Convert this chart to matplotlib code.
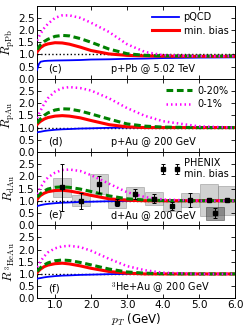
import matplotlib
matplotlib.use("Agg")
import matplotlib.pyplot as plt
from matplotlib.patches import Rectangle
import numpy as np

plt.rcParams['mathtext.fontset'] = 'cm'
plt.rcParams['font.family'] = ['DejaVu Sans']

# pT grid for model curves
pt = [0.5, 0.55, 0.6, 0.7, 0.8, 1.0, 1.2, 1.4, 1.7, 2.0, 2.5, 3.0, 3.5, 4.0, 5.0, 6.0]

# panel (c) p+Pb 5.02 TeV
c_pqcd = [0.36, 0.60, 0.70, 0.73, 0.74, 0.75, 0.755, 0.76, 0.77, 0.79, 0.80, 0.82, 0.83, 0.85, 0.87, 0.88]
c_mb   = [1.10, 1.20, 1.28, 1.38, 1.43, 1.48, 1.47, 1.42, 1.30, 1.16, 1.02, 0.96, 0.94, 0.93, 0.92, 0.92]
c_020  = [1.20, 1.30, 1.40, 1.53, 1.62, 1.74, 1.78, 1.76, 1.65, 1.50, 1.22, 1.03, 0.96, 0.94, 0.93, 0.93]
c_01   = [1.57, 1.72, 1.85, 2.08, 2.25, 2.50, 2.60, 2.60, 2.50, 2.30, 1.92, 1.42, 1.10, 0.97, 0.93, 0.93]

# panel (d) p+Au 200 GeV
d_pqcd = [0.80, 0.82, 0.83, 0.86, 0.88, 0.91, 0.93, 0.94, 0.96, 0.97, 0.99, 1.00, 1.00, 1.00, 1.00, 1.00]
d_mb   = [1.12, 1.20, 1.26, 1.35, 1.41, 1.47, 1.49, 1.47, 1.40, 1.29, 1.12, 1.03, 1.00, 1.00, 1.00, 1.00]
d_020  = [1.18, 1.28, 1.36, 1.50, 1.60, 1.72, 1.77, 1.76, 1.68, 1.56, 1.35, 1.15, 1.06, 1.02, 1.00, 1.00]
d_01   = [1.39, 1.55, 1.70, 1.98, 2.20, 2.48, 2.62, 2.66, 2.62, 2.52, 2.20, 1.80, 1.48, 1.26, 1.05, 1.00]

# panel (e) d+Au 200 GeV
e_pqcd = [0.78, 0.80, 0.82, 0.85, 0.87, 0.90, 0.92, 0.93, 0.95, 0.96, 0.98, 0.99, 1.00, 1.00, 1.00, 1.00]
e_mb   = [1.05, 1.15, 1.22, 1.31, 1.37, 1.42, 1.43, 1.40, 1.32, 1.22, 1.08, 1.02, 1.00, 1.00, 1.00, 1.00]
e_020  = [1.15, 1.22, 1.30, 1.40, 1.48, 1.55, 1.57, 1.55, 1.48, 1.38, 1.20, 1.08, 1.03, 1.01, 1.00, 1.00]
e_01   = [1.28, 1.42, 1.55, 1.78, 1.95, 2.15, 2.26, 2.28, 2.22, 2.05, 1.70, 1.35, 1.15, 1.05, 1.00, 1.00]

# panel (f) 3He+Au 200 GeV
f_pqcd = [0.80, 0.82, 0.83, 0.86, 0.88, 0.91, 0.93, 0.94, 0.96, 0.97, 0.99, 1.00, 1.00, 1.00, 1.00, 1.00]
f_mb   = [1.05, 1.13, 1.20, 1.30, 1.36, 1.42, 1.44, 1.41, 1.33, 1.23, 1.10, 1.03, 1.00, 1.00, 1.00, 1.00]
f_020  = [1.10, 1.18, 1.26, 1.37, 1.45, 1.54, 1.57, 1.55, 1.47, 1.37, 1.20, 1.08, 1.03, 1.01, 1.00, 1.00]
f_01   = [1.28, 1.40, 1.52, 1.72, 1.88, 2.05, 2.13, 2.15, 2.10, 1.95, 1.62, 1.32, 1.15, 1.05, 1.00, 1.00]

# PHENIX d+Au min. bias data
phx_pt   = [1.20, 1.71, 2.22, 2.73, 3.22, 3.75, 4.24, 4.75, 5.28, 5.79]
phx_r    = [1.55, 1.00, 1.68, 0.92, 1.28, 1.09, 0.78, 1.03, 1.02, 1.02]
phx_stat = [0.97, 0.33, 0.35, 0.15, 0.20, 0.20, 0.15, 0.28, 0.05, 0.05]
phx_sys  = [0.40, 0.22, 0.40, 0.20, 0.30, 0.25, 0.18, 0.28, 0.65, 0.60]
# separate point with dark systematic box
phx2_pt   = [5.43]
phx2_r    = [0.49]
phx2_stat = [0.20]
phx2_sys  = [0.26]

xticks = [1.0, 2.0, 3.0, 4.0, 5.0, 6.0]
yticks = [0.0, 0.5, 1.0, 1.5, 2.0, 2.5]

panels = [
    ("c", r"$R_{\mathrm{pPb}}$", "p+Pb @ 5.02 TeV", c_pqcd, c_mb, c_020, c_01),
    ("d", r"$R_{\mathrm{pAu}}$", "p+Au @ 200 GeV", d_pqcd, d_mb, d_020, d_01),
    ("e", r"$R_{\mathrm{dAu}}$", "d+Au @ 200 GeV", e_pqcd, e_mb, e_020, e_01),
    ("f", r"$R_{\ ^{3}\mathrm{HeAu}}$", r"$^3$He+Au @ 200 GeV", f_pqcd, f_mb, f_020, f_01),
]

fig = plt.figure(figsize=(2.49, 3.32), dpi=100)
gs = fig.add_gridspec(4, 1, left=0.1486, right=0.944, top=0.983, bottom=0.1015, hspace=0)

for i, (tag, ylab, sysname, pq, mb, c20, c1) in enumerate(panels):
    ax = fig.add_subplot(gs[i])
    ax.axhline(1.0, color='black', ls=':', lw=1.0, zorder=2)
    if tag == "e":
        for x, y, s in zip(phx_pt, phx_r, phx_sys):
            ax.add_patch(Rectangle((x - 0.25, y - s), 0.5, 2 * s, facecolor='0.6',
                                   edgecolor='0.45', alpha=0.45, lw=0.6, zorder=1))
        for x, y, s in zip(phx2_pt, phx2_r, phx2_sys):
            ax.add_patch(Rectangle((x - 0.25, y - s), 0.5, 2 * s, facecolor='0.3',
                                   edgecolor='0.2', alpha=0.55, lw=0.6, zorder=1))
    l1, = ax.plot(pt, pq, color='blue', lw=1.3, zorder=3)
    l2, = ax.plot(pt, mb, color='red', lw=2.2, zorder=4)
    l3, = ax.plot(pt, c20, color='green', lw=2.2, ls=(0, (2.2, 1.2)), zorder=5)
    l4, = ax.plot(pt, c1, color='magenta', lw=1.8, ls=(0, (0.6, 1.2)), zorder=6)
    if tag == "e":
        eb = ax.errorbar(phx_pt, phx_r, yerr=phx_stat, fmt='s', color='black', ms=3.5,
                         elinewidth=0.7, capsize=1.5, capthick=0.7, zorder=7)
        ax.errorbar(phx2_pt, phx2_r, yerr=phx2_stat, fmt='s', color='black', ms=3.5,
                    elinewidth=0.7, capsize=1.5, capthick=0.7, zorder=7)
        ax.legend([eb], ["PHENIX\nmin. bias"], loc='upper right', frameon=False,
                  fontsize=7, numpoints=2, handlelength=2.0, borderaxespad=0.2,
                  handletextpad=0.5)
    if tag == "c":
        ax.legend([l1, l2], ["pQCD", "min. bias"], loc='upper right', frameon=False,
                  fontsize=7, handlelength=2.7, borderaxespad=0.3, labelspacing=0.35,
                  handletextpad=0.5)
    if tag == "d":
        ax.legend([l3, l4], ["0-20%", "0-1%"], loc='upper right', frameon=False,
                  fontsize=7, handlelength=2.7, borderaxespad=0.3, labelspacing=0.35,
                  handletextpad=0.5)
    ax.text(0.81, 0.42, "(%s)" % tag, fontsize=7.5, ha='left', va='center')
    ax.text(2.55, 0.42, sysname, fontsize=7, ha='left', va='center')
    ax.set_xlim(0.5, 6.0)
    ax.set_ylim(0.0, 3.0)
    ax.set_xticks(xticks)
    ax.set_yticks(yticks)
    ax.set_yticklabels(["%.1f" % v for v in yticks])
    ax.tick_params(direction='in', top=True, right=True, labelsize=7.5, length=3, width=0.6,
                   pad=1.5)
    ax.set_ylabel(ylab, fontsize=9, labelpad=1)
    for sp in ax.spines.values():
        sp.set_linewidth(0.7)
    if i < 3:
        ax.tick_params(labelbottom=False)
    else:
        ax.set_xticklabels(["%.1f" % v for v in xticks])
        ax.set_xlabel(r"$p_T$ (GeV)", fontsize=8.5, labelpad=1)

fig.savefig("out.png", dpi=100)
